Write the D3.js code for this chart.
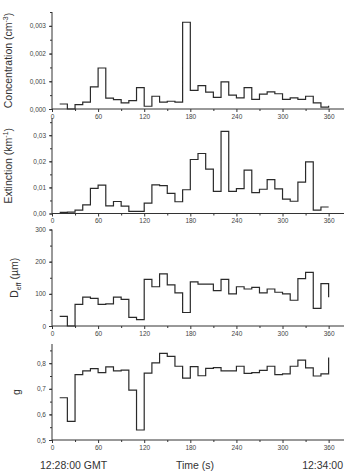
<!DOCTYPE html>
<html>
<head>
<meta charset="utf-8">
<script src="https://cdn.jsdelivr.net/npm/d3@7"></script>
<style>
  body { margin: 0; background: #fff; }
  svg { display: block; font-family: "Liberation Sans", Arial, sans-serif; }
  .tick text { fill: #444; }
</style>
</head>
<body>
<svg id="chart"></svg>
<script>
// time of each 10 s step (s after 12:28:00)
const time = d3.range(10, 361, 10);

// series values
const concentration = [0.00018, 0, 0.00016, 0.00025, 0.0008, 0.00148, 0.00039, 0.00034, 0.00022, 0.0003,
  0.00077, 0.0001, 0.00046, 0.00025, 0.00028, 0.00025, 0.00313, 0.00067, 0.00084, 0.00061,
  0.00042, 0.00098, 0.0005, 0.0004, 0.00077, 0.00035, 0.00054, 0.00062, 0.00055, 0.00035,
  0.0004, 0.00035, 0.00046, 0.00022, 0.00007, 0.00012];
const extinction = [0.0004, 0.0005, 0.0013, 0.0033, 0.0096, 0.0109, 0.0029, 0.0046, 0.0028, 0.0008,
  0.0008, 0.004, 0.011, 0.0107, 0.0077, 0.0045, 0.0091, 0.0207, 0.023, 0.017,
  0.0085, 0.0315, 0.0085, 0.0095, 0.0166, 0.008, 0.0093, 0.013, 0.0094, 0.0055,
  0.0047, 0.012, 0.0198, 0.0013, 0.0025, 0.0025];
const deff = [30, 0, 67, 90, 86, 67, 69, 90, 83, 27,
  20, 145, 122, 162, 128, 103, 42, 137, 130, 130,
  110, 145, 100, 122, 115, 120, 103, 115, 105, 100,
  80, 147, 167, 55, 132, 89];
const gFactor = [0.665, 0.573, 0.755, 0.77, 0.779, 0.763, 0.786, 0.77, 0.773, 0.695,
  0.539, 0.761, 0.801, 0.838, 0.827, 0.788, 0.742, 0.787, 0.751, 0.78,
  0.783, 0.77, 0.77, 0.788, 0.76, 0.763, 0.772, 0.788, 0.755, 0.758,
  0.788, 0.812, 0.782, 0.75, 0.758, 0.822];

// tick labels
const xTicks = [0, 60, 120, 180, 240, 300, 360];
const concTicks = ["0,000", "0,001", "0,002", "0,003"];
const extTicks = ["0,00", "0,01", "0,02", "0,03"];
const deffTicks = ["0", "100", "200", "300"];
const gTicks = ["0,5", "0,6", "0,7", "0,8"];

const W = 344, H = 473;
const svg = d3.select("#chart").attr("width", W).attr("height", H);

const x = d3.scaleLinear().domain([0, 380]).range([52, 344]);

function toNum(s) { return +s.replace(",", "."); }

const panels = [
  {values: concentration, ticks: concTicks, domain: [0, 0.0035], minor: 0.0005,
   top: 12, bottom: 109, title: ["Concentration (cm", "-3", ")"], tx: 12},
  {values: extinction, ticks: extTicks, domain: [0, 0.0366], minor: 0.005,
   top: 118, bottom: 213.5, title: ["Extinction (km", "-1", ")"], tx: 12},
  {values: deff, ticks: deffTicks, domain: [0, 300], minor: 50,
   top: 229.5, bottom: 326, title: "deff", tx: 18},
  {values: gFactor, ticks: gTicks, domain: [0.5, 0.875], minor: 0.05,
   top: 344, bottom: 440, title: ["g"], tx: 20}
];

panels.forEach(function (p) {
  const y = d3.scaleLinear().domain(p.domain).range([p.bottom, p.top]);
  const g = svg.append("g");

  // minor ticks
  const minorY = d3.range(p.domain[0], p.domain[1] + 1e-9, p.minor);
  g.append("g")
    .attr("transform", "translate(" + x(0) + ",0)")
    .call(d3.axisLeft(y).tickValues(minorY).tickSize(2).tickFormat(""))
    .call(s => s.select(".domain").remove());
  g.append("g")
    .attr("transform", "translate(0," + p.bottom + ")")
    .call(d3.axisBottom(x).tickValues(d3.range(30, 380, 60)).tickSize(2).tickFormat(""))
    .call(s => s.select(".domain").remove());

  // y axis
  g.append("g")
    .attr("transform", "translate(" + x(0) + ",0)")
    .call(d3.axisLeft(y).tickValues(p.ticks.map(toNum)).tickSize(3).tickPadding(3)
      .tickFormat((d, i) => p.ticks[i]))
    .call(s => s.select(".domain").attr("d", "M0," + p.bottom + "V" + p.top))
    .call(s => s.selectAll("text").attr("font-size", 6.5));

  // x axis
  g.append("g")
    .attr("transform", "translate(0," + p.bottom + ")")
    .call(d3.axisBottom(x).tickValues(xTicks).tickSize(3).tickPadding(2))
    .call(s => s.select(".domain").attr("d", "M" + x(0) + ",0H" + W))
    .call(s => s.selectAll("text").attr("font-size", 6.5));

  g.selectAll(".domain, .tick line").attr("stroke", "#333");

  // step line
  const line = d3.line()
    .x((d, i) => x(time[i]))
    .y(d => y(d))
    .curve(d3.curveStepAfter);
  g.append("path")
    .datum(p.values)
    .attr("fill", "none")
    .attr("stroke", "#2a2a2a")
    .attr("stroke-width", 1.2)
    .attr("d", line);

  // axis title
  const cy = (p.top + p.bottom) / 2;
  const t = g.append("text")
    .attr("transform", "translate(" + p.tx + "," + cy + ") rotate(-90)")
    .attr("text-anchor", "middle")
    .attr("font-size", 10.5)
    .attr("fill", "#333");
  if (p.title === "deff") {
    t.append("tspan").text("D");
    t.append("tspan").attr("font-size", 7).attr("dy", 2.5).text("eff");
    t.append("tspan").attr("dy", -2.5).text(" (\u00b5m)");
  } else {
    t.append("tspan").text(p.title[0]);
    if (p.title.length > 1) {
      t.append("tspan").attr("font-size", 7).attr("dy", -4).text(p.title[1]);
      t.append("tspan").attr("dy", 4).text(p.title[2]);
    }
  }
});

// bottom captions
const cap = svg.append("g").attr("font-size", 10.5).attr("fill", "#333");
cap.append("text").attr("x", 40).attr("y", 469).text("12:28:00 GMT");
cap.append("text").attr("x", 195).attr("y", 469).attr("text-anchor", "middle").text("Time (s)");
cap.append("text").attr("x", 343).attr("y", 469).attr("text-anchor", "end").text("12:34:00");
</script>
</body>
</html>
